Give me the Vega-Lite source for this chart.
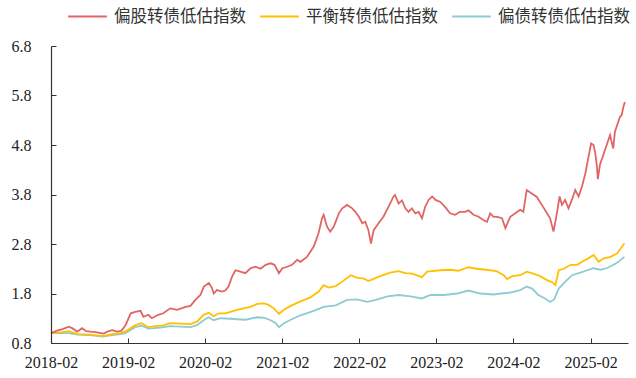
{
  "$schema": "https://vega.github.io/schema/vega-lite/v6.json",
  "width": 577,
  "height": 297,
  "autosize": "none",
  "padding": {"left": 51, "top": 46, "right": 8, "bottom": 35},
  "background": "white",
  "config": {
    "view": {"stroke": null},
    "axis": {"grid": false, "labelColor": "#222222", "labelFont": "Liberation Serif", "labelFontSize": 16, "title": null},
    "line": {"strokeWidth": 1.8}
  },
  "datasets": {
    "red": [
      {"d":"2018-02-01","v":1.00},{"d":"2018-03-01","v":1.05},{"d":"2018-03-28","v":1.08},{"d":"2018-04-26","v":1.13},{"d":"2018-05-12","v":1.10},{"d":"2018-06-05","v":1.03},{"d":"2018-06-28","v":1.10},{"d":"2018-07-18","v":1.04},{"d":"2018-08-06","v":1.03},{"d":"2018-09-01","v":1.02},{"d":"2018-10-08","v":0.99},{"d":"2018-10-26","v":1.03},{"d":"2018-11-18","v":1.06},{"d":"2018-12-13","v":1.03},{"d":"2019-01-01","v":1.05},{"d":"2019-01-20","v":1.16},{"d":"2019-02-14","v":1.40},{"d":"2019-03-07","v":1.43},{"d":"2019-04-01","v":1.45},{"d":"2019-04-15","v":1.33},{"d":"2019-05-08","v":1.37},{"d":"2019-05-25","v":1.30},{"d":"2019-06-24","v":1.37},{"d":"2019-07-18","v":1.40},{"d":"2019-08-20","v":1.50},{"d":"2019-09-21","v":1.47},{"d":"2019-11-01","v":1.53},{"d":"2019-11-24","v":1.55},{"d":"2019-12-17","v":1.67},{"d":"2020-01-10","v":1.77},{"d":"2020-01-26","v":1.94},{"d":"2020-02-19","v":2.01},{"d":"2020-03-05","v":1.91},{"d":"2020-03-13","v":1.80},{"d":"2020-03-28","v":1.87},{"d":"2020-04-22","v":1.84},{"d":"2020-05-07","v":1.86},{"d":"2020-05-22","v":1.94},{"d":"2020-06-08","v":2.14},{"d":"2020-06-24","v":2.27},{"d":"2020-07-17","v":2.24},{"d":"2020-08-10","v":2.21},{"d":"2020-09-03","v":2.31},{"d":"2020-09-27","v":2.34},{"d":"2020-10-21","v":2.30},{"d":"2020-11-14","v":2.38},{"d":"2020-12-07","v":2.41},{"d":"2020-12-26","v":2.38},{"d":"2021-01-16","v":2.21},{"d":"2021-02-01","v":2.31},{"d":"2021-02-25","v":2.34},{"d":"2021-03-19","v":2.38},{"d":"2021-04-12","v":2.48},{"d":"2021-04-28","v":2.44},{"d":"2021-05-29","v":2.54},{"d":"2021-06-30","v":2.75},{"d":"2021-07-23","v":3.02},{"d":"2021-08-08","v":3.32},{"d":"2021-08-16","v":3.39},{"d":"2021-09-01","v":3.15},{"d":"2021-09-16","v":3.05},{"d":"2021-10-03","v":3.15},{"d":"2021-10-27","v":3.42},{"d":"2021-11-12","v":3.52},{"d":"2021-12-05","v":3.59},{"d":"2021-12-29","v":3.52},{"d":"2022-01-13","v":3.45},{"d":"2022-01-30","v":3.35},{"d":"2022-02-15","v":3.22},{"d":"2022-03-01","v":3.25},{"d":"2022-03-16","v":3.08},{"d":"2022-03-28","v":2.81},{"d":"2022-04-10","v":3.08},{"d":"2022-05-03","v":3.22},{"d":"2022-05-26","v":3.35},{"d":"2022-06-19","v":3.55},{"d":"2022-07-13","v":3.76},{"d":"2022-07-20","v":3.79},{"d":"2022-08-06","v":3.62},{"d":"2022-08-22","v":3.68},{"d":"2022-09-07","v":3.52},{"d":"2022-09-22","v":3.45},{"d":"2022-10-08","v":3.52},{"d":"2022-10-24","v":3.42},{"d":"2022-11-09","v":3.45},{"d":"2022-11-25","v":3.32},{"d":"2022-12-10","v":3.55},{"d":"2022-12-26","v":3.69},{"d":"2023-01-12","v":3.76},{"d":"2023-01-28","v":3.69},{"d":"2023-02-20","v":3.65},{"d":"2023-03-14","v":3.55},{"d":"2023-04-07","v":3.42},{"d":"2023-05-01","v":3.39},{"d":"2023-05-24","v":3.45},{"d":"2023-06-17","v":3.45},{"d":"2023-07-03","v":3.48},{"d":"2023-07-27","v":3.39},{"d":"2023-08-20","v":3.35},{"d":"2023-09-13","v":3.28},{"d":"2023-09-29","v":3.25},{"d":"2023-10-14","v":3.42},{"d":"2023-10-30","v":3.35},{"d":"2023-11-16","v":3.35},{"d":"2023-12-09","v":3.32},{"d":"2023-12-25","v":3.12},{"d":"2024-01-17","v":3.35},{"d":"2024-02-10","v":3.42},{"d":"2024-03-04","v":3.49},{"d":"2024-03-19","v":3.45},{"d":"2024-04-04","v":3.89},{"d":"2024-04-28","v":3.82},{"d":"2024-05-22","v":3.75},{"d":"2024-06-15","v":3.59},{"d":"2024-07-09","v":3.42},{"d":"2024-07-24","v":3.32},{"d":"2024-08-09","v":3.05},{"d":"2024-08-25","v":3.42},{"d":"2024-09-07","v":3.76},{"d":"2024-09-18","v":3.59},{"d":"2024-10-03","v":3.69},{"d":"2024-10-19","v":3.52},{"d":"2024-11-04","v":3.69},{"d":"2024-11-20","v":3.89},{"d":"2024-12-06","v":3.76},{"d":"2024-12-22","v":3.96},{"d":"2025-01-07","v":4.23},{"d":"2025-01-22","v":4.56},{"d":"2025-02-03","v":4.83},{"d":"2025-02-15","v":4.80},{"d":"2025-02-23","v":4.63},{"d":"2025-03-02","v":4.40},{"d":"2025-03-07","v":4.11},{"d":"2025-03-17","v":4.40},{"d":"2025-04-02","v":4.60},{"d":"2025-04-18","v":4.80},{"d":"2025-05-04","v":5.00},{"d":"2025-05-11","v":4.87},{"d":"2025-05-19","v":4.73},{"d":"2025-05-27","v":5.07},{"d":"2025-06-04","v":5.17},{"d":"2025-06-20","v":5.37},{"d":"2025-06-28","v":5.40},{"d":"2025-07-06","v":5.57},{"d":"2025-07-13","v":5.67}
    ],
    "yellow": [
      {"d":"2018-02-01","v":1.00},{"d":"2018-03-28","v":1.02},{"d":"2018-04-25","v":1.04},{"d":"2018-06-08","v":0.98},{"d":"2018-08-06","v":0.97},{"d":"2018-10-03","v":0.94},{"d":"2018-11-18","v":0.98},{"d":"2018-12-29","v":1.00},{"d":"2019-01-20","v":1.03},{"d":"2019-03-07","v":1.16},{"d":"2019-04-07","v":1.20},{"d":"2019-05-08","v":1.12},{"d":"2019-06-10","v":1.14},{"d":"2019-07-15","v":1.15},{"d":"2019-08-20","v":1.20},{"d":"2019-10-08","v":1.19},{"d":"2019-11-24","v":1.18},{"d":"2019-12-25","v":1.23},{"d":"2020-01-25","v":1.37},{"d":"2020-02-18","v":1.41},{"d":"2020-03-12","v":1.34},{"d":"2020-04-06","v":1.40},{"d":"2020-05-07","v":1.40},{"d":"2020-05-31","v":1.43},{"d":"2020-07-02","v":1.47},{"d":"2020-08-01","v":1.50},{"d":"2020-09-03","v":1.53},{"d":"2020-10-05","v":1.59},{"d":"2020-11-06","v":1.60},{"d":"2020-11-28","v":1.57},{"d":"2020-12-23","v":1.50},{"d":"2021-01-16","v":1.39},{"d":"2021-02-09","v":1.47},{"d":"2021-03-13","v":1.55},{"d":"2021-04-28","v":1.64},{"d":"2021-06-14","v":1.72},{"d":"2021-07-23","v":1.84},{"d":"2021-08-16","v":1.97},{"d":"2021-09-08","v":1.92},{"d":"2021-10-12","v":1.95},{"d":"2021-11-12","v":2.04},{"d":"2021-12-22","v":2.17},{"d":"2022-01-20","v":2.12},{"d":"2022-02-22","v":2.10},{"d":"2022-03-16","v":2.05},{"d":"2022-04-02","v":2.08},{"d":"2022-05-10","v":2.15},{"d":"2022-06-27","v":2.22},{"d":"2022-08-06","v":2.25},{"d":"2022-09-07","v":2.21},{"d":"2022-10-10","v":2.20},{"d":"2022-11-25","v":2.13},{"d":"2022-12-19","v":2.24},{"d":"2023-02-20","v":2.27},{"d":"2023-04-07","v":2.28},{"d":"2023-05-16","v":2.26},{"d":"2023-07-03","v":2.33},{"d":"2023-08-09","v":2.30},{"d":"2023-09-26","v":2.28},{"d":"2023-11-13","v":2.25},{"d":"2023-12-17","v":2.17},{"d":"2024-01-02","v":2.09},{"d":"2024-01-27","v":2.15},{"d":"2024-03-04","v":2.17},{"d":"2024-04-04","v":2.24},{"d":"2024-05-05","v":2.20},{"d":"2024-06-07","v":2.15},{"d":"2024-07-09","v":2.07},{"d":"2024-08-02","v":2.03},{"d":"2024-08-18","v":1.97},{"d":"2024-09-03","v":2.27},{"d":"2024-09-27","v":2.30},{"d":"2024-10-29","v":2.38},{"d":"2024-11-30","v":2.38},{"d":"2024-12-22","v":2.44},{"d":"2025-01-21","v":2.51},{"d":"2025-02-15","v":2.58},{"d":"2025-03-11","v":2.44},{"d":"2025-04-04","v":2.51},{"d":"2025-05-06","v":2.54},{"d":"2025-06-07","v":2.61},{"d":"2025-06-23","v":2.71},{"d":"2025-07-11","v":2.81}
    ],
    "teal": [
      {"d":"2018-02-01","v":1.00},{"d":"2018-03-28","v":1.00},{"d":"2018-04-25","v":1.00},{"d":"2018-06-08","v":0.97},{"d":"2018-08-06","v":0.96},{"d":"2018-10-03","v":0.93},{"d":"2018-11-18","v":0.96},{"d":"2018-12-29","v":0.98},{"d":"2019-01-20","v":1.00},{"d":"2019-03-07","v":1.12},{"d":"2019-04-07","v":1.15},{"d":"2019-05-08","v":1.09},{"d":"2019-07-05","v":1.11},{"d":"2019-08-20","v":1.14},{"d":"2019-10-08","v":1.13},{"d":"2019-11-24","v":1.12},{"d":"2019-12-25","v":1.16},{"d":"2020-01-25","v":1.26},{"d":"2020-02-18","v":1.32},{"d":"2020-03-12","v":1.26},{"d":"2020-04-15","v":1.30},{"d":"2020-05-31","v":1.29},{"d":"2020-07-02","v":1.28},{"d":"2020-08-10","v":1.27},{"d":"2020-10-05","v":1.32},{"d":"2020-11-05","v":1.31},{"d":"2020-12-08","v":1.26},{"d":"2021-01-01","v":1.20},{"d":"2021-01-16","v":1.12},{"d":"2021-02-09","v":1.20},{"d":"2021-03-13","v":1.27},{"d":"2021-04-28","v":1.36},{"d":"2021-06-30","v":1.45},{"d":"2021-08-16","v":1.53},{"d":"2021-10-12","v":1.56},{"d":"2021-12-05","v":1.67},{"d":"2022-01-20","v":1.68},{"d":"2022-03-11","v":1.63},{"d":"2022-04-20","v":1.67},{"d":"2022-06-14","v":1.74},{"d":"2022-08-06","v":1.77},{"d":"2022-10-01","v":1.74},{"d":"2022-11-25","v":1.70},{"d":"2023-01-04","v":1.77},{"d":"2023-03-08","v":1.77},{"d":"2023-05-10","v":1.80},{"d":"2023-07-03","v":1.86},{"d":"2023-08-29","v":1.80},{"d":"2023-10-30","v":1.78},{"d":"2023-12-03","v":1.80},{"d":"2024-01-17","v":1.82},{"d":"2024-03-04","v":1.87},{"d":"2024-04-04","v":1.94},{"d":"2024-04-30","v":1.90},{"d":"2024-05-29","v":1.77},{"d":"2024-06-30","v":1.70},{"d":"2024-07-24","v":1.63},{"d":"2024-08-12","v":1.68},{"d":"2024-09-03","v":1.90},{"d":"2024-10-04","v":2.04},{"d":"2024-11-05","v":2.17},{"d":"2024-12-14","v":2.22},{"d":"2025-01-15","v":2.27},{"d":"2025-02-15","v":2.31},{"d":"2025-03-19","v":2.28},{"d":"2025-04-17","v":2.31},{"d":"2025-05-21","v":2.38},{"d":"2025-06-13","v":2.44},{"d":"2025-07-11","v":2.54}
    ]
  },
  "encoding": {
    "x": {
      "field": "d", "type": "temporal",
      "scale": {"type": "utc", "domain": [{"year": 2018, "month": 2, "date": 1, "utc": true}, {"year": 2025, "month": 7, "date": 28, "utc": true}], "nice": false},
      "axis": {"labelExpr": "utcFormat(datum.value, '%Y-%m')", "tickSize": -5, "labelPadding": 16, "labelFlush": false, "labelOverlap": false, "domain": true, "domainColor": "#333333", "domainWidth": 1.2, "tickColor": "#333333", "ticks": true, "zindex": 1,
        "values": [{"year": 2018, "month": 2, "date": 1, "utc": true}, {"year": 2019, "month": 2, "date": 1, "utc": true}, {"year": 2020, "month": 2, "date": 1, "utc": true}, {"year": 2021, "month": 2, "date": 1, "utc": true}, {"year": 2022, "month": 2, "date": 1, "utc": true}, {"year": 2023, "month": 2, "date": 1, "utc": true}, {"year": 2024, "month": 2, "date": 1, "utc": true}, {"year": 2025, "month": 2, "date": 1, "utc": true}]}
    },
    "y": {
      "field": "v", "type": "quantitative",
      "scale": {"domain": [0.8, 6.8], "nice": false, "zero": false},
      "axis": {"values": [0.8, 1.8, 2.8, 3.8, 4.8, 5.8, 6.8], "format": ".1f", "tickSize": -5, "labelPadding": 25, "labelFlush": false, "domain": true, "domainColor": "#333333", "domainWidth": 1.2, "tickColor": "#333333", "ticks": true, "zindex": 1}
    },
    "color": {
      "scale": {"domain": ["偏股转债低估指数", "平衡转债低估指数", "偏债转债低估指数"], "range": ["#E06666", "#FFC000", "#8ECBD2"]},
      "legend": {"orient": "none", "legendX": 16, "legendY": -50, "direction": "horizontal", "title": null, "symbolType": "stroke", "symbolSize": 1500, "symbolStrokeWidth": 2, "labelFont": "Noto Sans CJK SC", "labelFontSize": 16.5, "labelColor": "#333333", "labelOffset": 6, "columnPadding": 10, "labelLimit": 300}
    }
  },
  "layer": [
    {"data": {"name": "teal"}, "mark": {"type": "line"}, "encoding": {"color": {"datum": "偏债转债低估指数"}}},
    {"data": {"name": "yellow"}, "mark": {"type": "line"}, "encoding": {"color": {"datum": "平衡转债低估指数"}}},
    {"data": {"name": "red"}, "mark": {"type": "line"}, "encoding": {"color": {"datum": "偏股转债低估指数"}}}
  ]
}
